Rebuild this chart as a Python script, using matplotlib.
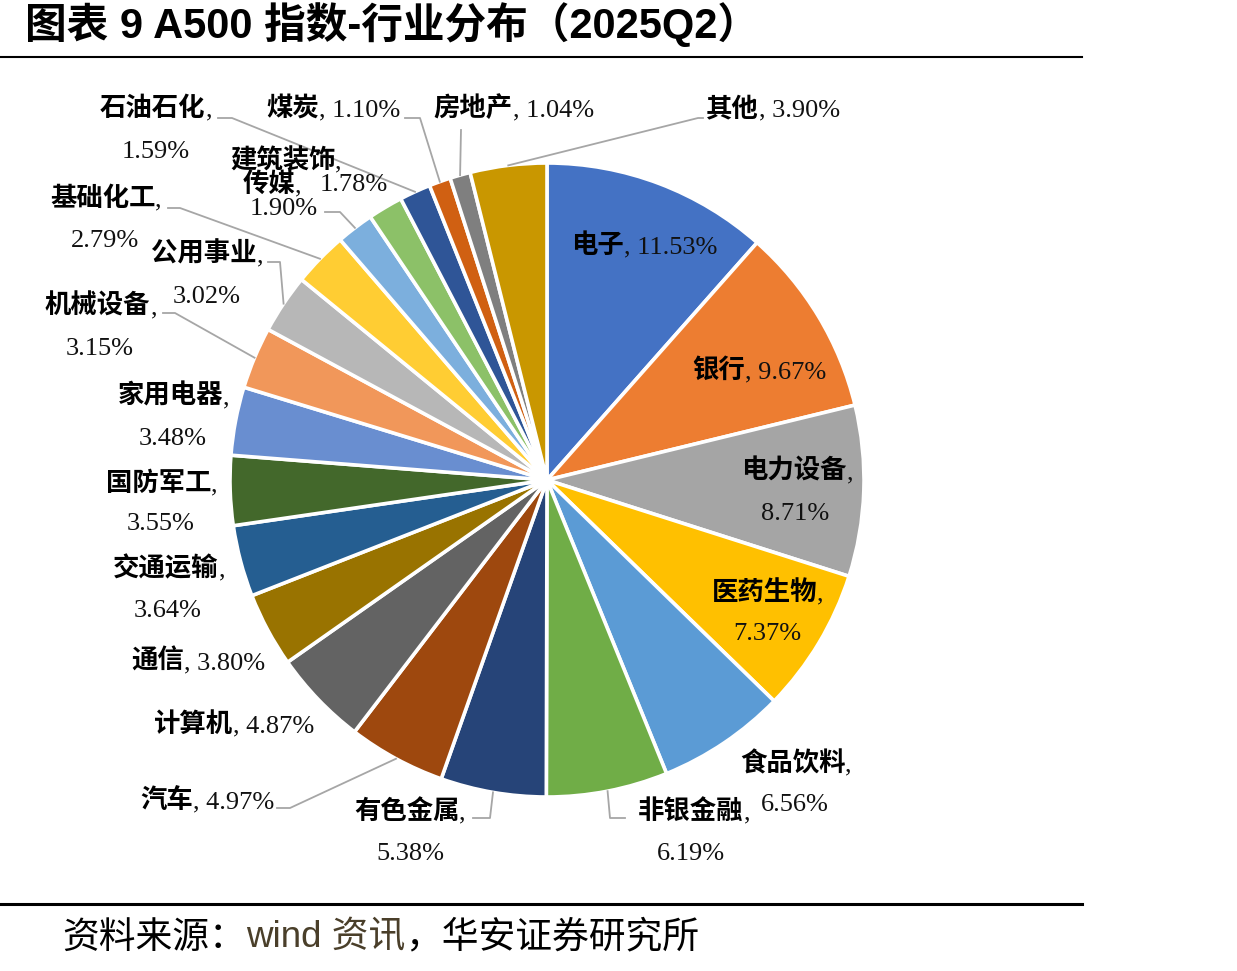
import matplotlib
matplotlib.use('Agg')
import matplotlib.pyplot as plt
from matplotlib.lines import Line2D
import numpy as np

# ---------------- data ----------------
categories = ['电子', '银行', '电力设备', '医药生物', '食品饮料', '非银金融', '有色金属',
              '汽车', '计算机', '通信', '交通运输', '国防军工', '家用电器', '机械设备',
              '公用事业', '基础化工', '传媒', '建筑装饰', '石油石化', '煤炭', '房地产', '其他']
weights = [11.53, 9.67, 8.71, 7.37, 6.56, 6.19, 5.38,
           4.97, 4.87, 3.80, 3.64, 3.55, 3.48, 3.15,
           3.02, 2.79, 1.90, 1.78, 1.59, 1.10, 1.04, 3.90]
colors = ['#4472C4', '#ED7D31', '#A5A5A5', '#FFC000', '#5B9BD5', '#70AD47', '#264478',
          '#9E480E', '#636363', '#997300', '#255E91', '#43682B', '#698ED0', '#F1975A',
          '#B7B7B7', '#FFCD33', '#7CAFDD', '#8CC168', '#2F5597', '#D06012', '#7F7F7F', '#C99700']
title = '图表 9 A500 指数-行业分布（2025Q2）'
source_parts = [('资料来源：', '#000000'), ('wind 资讯', '#4a3f2a'), ('，华安证券研究所', '#000000')]

# ---------------- layout (pixels, top-left origin) ----------------
W, H = 1237, 971
label_lines = {
    '电子': [(644, 245)],
    '银行': [(759, 370)],
    '电力设备': [(797, 471), (795, 512)],
    '医药生物': [(768, 592), (767, 632)],
    '食品饮料': [(796, 763), (795, 803)],
    '非银金融': [(694, 811), (691, 852)],
    '有色金属': [(410, 811), (410, 852)],
    '汽车': [(207, 800)],
    '计算机': [(234, 724)],
    '通信': [(198, 661)],
    '交通运输': [(169, 568), (168, 609)],
    '国防军工': [(162, 483), (161, 522)],
    '家用电器': [(174, 396), (173, 437)],
    '机械设备': [(101, 306), (100, 347)],
    '公用事业': [(207, 254), (207, 295)],
    '基础化工': [(106, 198), (105, 239)],
    '传媒': [(272, 184), (284, 207)],
    '建筑装饰': [(286, 160), (354, 183)],
    '石油石化': [(156, 108), (156, 150)],
    '煤炭': [(333, 108)],
    '房地产': [(514, 108)],
    '其他': [(773, 108)],
}
leaders = {
    '其他': [(698, 118), (703, 118)],
    '房地产': [(461, 130), (461, 130)],
    '煤炭': [(420, 118), (405, 118)],
    '石油石化': [(232, 118), (218, 118)],
    '传媒': [(340, 212), (325, 212)],
    '基础化工': [(180, 208), (168, 208)],
    '公用事业': [(280, 262), (268, 262)],
    '机械设备': [(175, 313), (163, 313)],
    '汽车': [(290, 808), (277, 808)],
    '有色金属': [(490, 818), (473, 818)],
    '非银金融': [(610, 818), (625, 818)],
}

fig = plt.figure(figsize=(W / 100, H / 100), dpi=100)
renderer = fig.canvas.get_renderer()


def fp(x, y):
    return (x / W, 1 - y / H)


# ---------------- pie ----------------
cx, cy, R = 547, 480, 317
ax = fig.add_axes([(cx - R) / W, 1 - (cy + R) / H, 2 * R / W, 2 * R / H])
wedges, _ = ax.pie(weights, colors=colors, startangle=90, counterclock=False,
                   radius=1, wedgeprops=dict(edgecolor='white', linewidth=2.6))
ax.set_xlim(-1, 1)
ax.set_ylim(-1, 1)
ax.axis('off')

FS = 19
cjk_font = dict(family=['Noto Sans CJK SC'], fontsize=FS, fontweight='bold', color='black')
num_font = dict(family=['Liberation Serif'], fontsize=FS, fontweight='normal', color='#111111')


def draw_line(parts, xc, yc):
    """parts: list of (text, props); centred horizontally at xc, visually at yc (pixels)."""
    arts = []
    for txt, props in parts:
        t = fig.text(0, 0, txt, ha='left', va='baseline', **props)
        arts.append(t)
    widths = [a.get_window_extent(renderer).width for a in arts]
    x0 = xc - sum(widths) / 2
    yb = yc + 8
    for a, wdt in zip(arts, widths):
        a.set_position(fp(x0, yb))
        x0 += wdt


for cat, val in zip(categories, weights):
    pos = label_lines[cat]
    if len(pos) == 1:
        draw_line([(cat, cjk_font), (f', {val:.2f}%', num_font)], *pos[0])
    else:
        draw_line([(cat, cjk_font), (',', num_font)], *pos[0])
        draw_line([(f'{val:.2f}%', num_font)], *pos[1])

inv = fig.transFigure.inverted()
for w, cat in zip(wedges, categories):
    if cat not in leaders:
        continue
    th = np.deg2rad((w.theta1 + w.theta2) / 2)
    start = inv.transform(ax.transData.transform((np.cos(th), np.sin(th))))
    pts = [tuple(start)] + [fp(*p) for p in leaders[cat]]
    xs, ys = zip(*pts)
    fig.add_artist(Line2D(xs, ys, transform=fig.transFigure, color='#A6A6A6', lw=1.3))

# ---------------- title & rules ----------------
fig.text(*fp(25, 25), title, ha='left', va='center', fontsize=30, fontweight='bold',
         family=['Liberation Sans', 'Noto Sans CJK SC'])
fig.add_artist(Line2D([0, 1082 / W], [1 - 57 / H] * 2, transform=fig.transFigure, color='black', lw=1.5))
fig.add_artist(Line2D([0, 1082 / W], [1 - 904 / H] * 2, transform=fig.transFigure, color='black', lw=2.2))

# ---------------- source ----------------
x = 62
for txt, col in source_parts:
    t = fig.text(*fp(x, 938), txt, ha='left', va='center', fontsize=26.5, color=col,
                 family=['Liberation Sans', 'Noto Sans CJK SC'])
    bb = t.get_window_extent(renderer)
    x = bb.x1

fig.savefig('out.png', dpi=100)
